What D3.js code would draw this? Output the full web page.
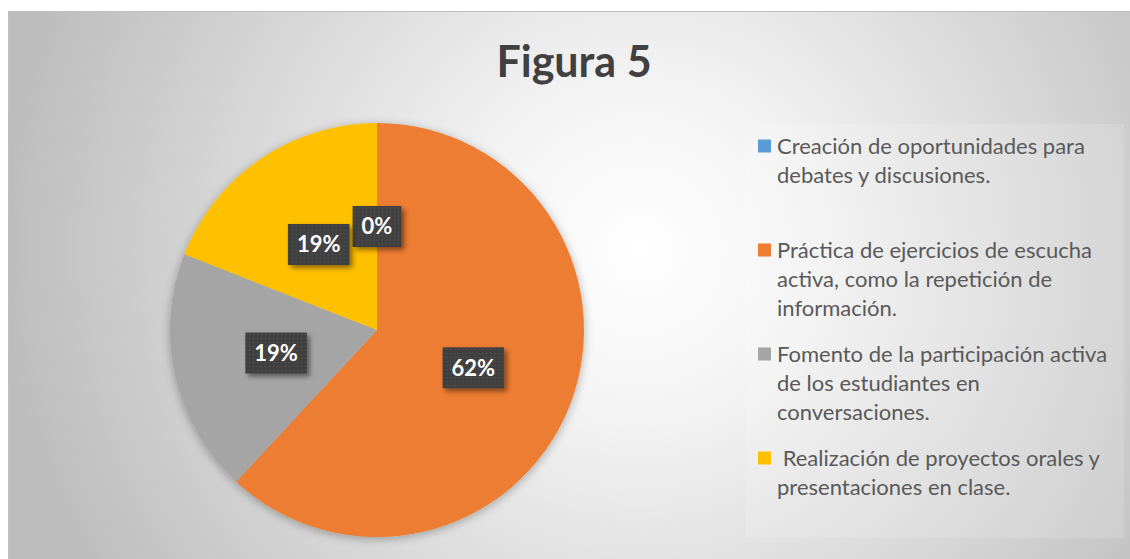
<!DOCTYPE html>
<meta charset="utf-8">
<style>
body { margin: 0; background: #fff; }
svg text { font-variant-ligatures: none; font-feature-settings: "liga" 0; }
.legend text { font: 22px Lato, sans-serif; fill: #595959; white-space: pre; }
.labels text { font: bold 22px Lato, sans-serif; fill: #fff; }
</style>
<svg width="1130" height="559"></svg>
<script src="https://d3js.org/d3.v7.min.js"></script>
<script>

var categories = [
  "Creación de oportunidades para debates y discusiones.",
  "Práctica de ejercicios de escucha activa, como la repetición de información.",
  "Fomento de la participación activa de los estudiantes en conversaciones.",
  " Realización de proyectos orales y presentaciones en clase."
];
var legendLines = [
  ["Creación de oportunidades para", "debates y discusiones."],
  ["Práctica de ejercicios de escucha", "activa, como la repetición de", "información."],
  ["Fomento de la participación activa", "de los estudiantes en", "conversaciones."],
  [" Realización de proyectos orales y", "presentaciones en clase."]
];
var values = [0, 13, 4, 4];
var colors = ["#5B9BD5", "#ED7D31", "#A5A5A5", "#FFC000"];

var svg = d3.select("svg"),
    width = +svg.attr("width"),
    height = +svg.attr("height");

var defs = svg.append("defs");

var bg = defs.append("radialGradient")
    .attr("id", "bg")
    .attr("gradientUnits", "userSpaceOnUse")
    .attr("cx", 640).attr("cy", 250).attr("r", 640);
bg.append("stop").attr("offset", "0").attr("stop-color", "#ffffff");
bg.append("stop").attr("offset", "0.25").attr("stop-color", "#f4f4f4");
bg.append("stop").attr("offset", "1").attr("stop-color", "#bdbdbd");

var pat = defs.append("pattern")
    .attr("id", "dots")
    .attr("patternUnits", "userSpaceOnUse")
    .attr("width", 4).attr("height", 4);
pat.append("rect").attr("width", 4).attr("height", 4).attr("fill", "#404040");
pat.append("rect").attr("x", 1).attr("y", 1).attr("width", 1).attr("height", 1).attr("fill", "#5c5c5c");

var sh = defs.append("filter").attr("id", "shadow")
    .attr("x", "-20%").attr("y", "-20%").attr("width", "140%").attr("height", "140%");
sh.append("feDropShadow").attr("dx", 0).attr("dy", 2).attr("stdDeviation", 5)
    .attr("flood-color", "#000").attr("flood-opacity", 0.3);

var sh2 = defs.append("filter").attr("id", "boxshadow")
    .attr("x", "-30%").attr("y", "-30%").attr("width", "170%").attr("height", "170%");
sh2.append("feDropShadow").attr("dx", 3).attr("dy", 3).attr("stdDeviation", 2.5)
    .attr("flood-color", "#000").attr("flood-opacity", 0.45);

// chart area
svg.append("rect")
    .attr("x", 8.5).attr("y", 11.5)
    .attr("width", width).attr("height", height)
    .attr("fill", "url(#bg)")
    .attr("stroke", "#bfbfbf");

svg.append("text")
    .attr("x", 574)
    .attr("y", 77)
    .attr("text-anchor", "middle")
    .style("font", "bold 43px Lato, sans-serif")
    .attr("fill", "#404040")
    .text("Figura 5");

// pie
var cx = 377, cy = 330, radius = 207;

var pie = d3.pie().sort(null).value(function(d) { return d; });
var arc = d3.arc().innerRadius(0).outerRadius(radius);
var arcs = pie(values);
var total = d3.sum(values);
var fmt = d3.format(".0%");

var g = svg.append("g").attr("transform", "translate(" + cx + "," + cy + ")");

g.append("g")
    .attr("filter", "url(#shadow)")
  .selectAll("path")
  .data(arcs)
  .enter().append("path")
    .attr("d", arc)
    .attr("fill", function(d, i) { return colors[i]; });

var lab = g.append("g")
    .attr("class", "labels")
  .selectAll("g")
  .data(arcs)
  .enter().append("g")
    .attr("transform", function(d) { return "translate(" + arc.centroid(d) + ")"; });

lab.append("rect").attr("class", "box");
lab.append("text")
    .attr("text-anchor", "middle")
    .attr("dy", "0.36em")
    .text(function(d) { return fmt(d.value / total); });

lab.each(function() {
  var t = d3.select(this).select("text").node();
  var w = t.getComputedTextLength() + 18, h = 41;
  d3.select(this).select("rect")
      .attr("x", -w / 2).attr("y", -h / 2)
      .attr("width", w).attr("height", h)
      .attr("fill", "url(#dots)")
      .attr("filter", "url(#boxshadow)");
});

// legend
svg.append("rect")
    .attr("x", 746).attr("y", 124)
    .attr("width", 378).attr("height", 414)
    .attr("fill", "#ffffff").attr("fill-opacity", 0.15);

var ly = d3.scalePoint().domain(d3.range(categories.length)).range([146, 458]);
var lineH = 29;

var leg = svg.append("g")
    .attr("class", "legend")
  .selectAll("g")
  .data(categories)
  .enter().append("g")
    .attr("transform", function(d, i) { return "translate(758," + ly(i) + ")"; });

leg.append("rect")
    .attr("y", -6.5)
    .attr("width", 13).attr("height", 13)
    .attr("fill", function(d, i) { return colors[i]; });

leg.append("text")
    .attr("x", 19)
    .selectAll("tspan")
    .data(function(d, i) { return legendLines[i]; })
    .enter().append("tspan")
    .attr("x", 19)
    .attr("y", function(d, j) { return j * lineH; })
    .attr("dy", "0.36em")
    .text(function(d) { return d; });

</script>
